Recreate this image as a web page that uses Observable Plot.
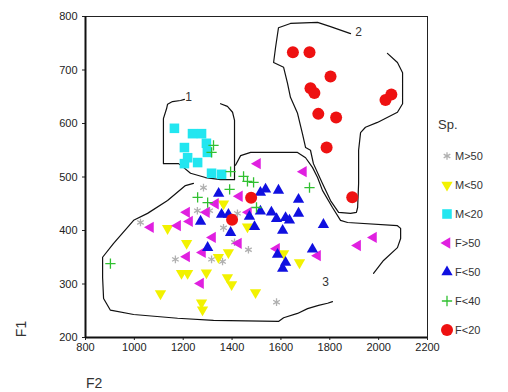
<!DOCTYPE html>
<html>
<head>
<meta charset="utf-8">
<script src="https://cdn.jsdelivr.net/npm/d3@7"></script>
<script src="https://cdn.jsdelivr.net/npm/@observablehq/plot@0.6"></script>
<style>
  html, body { margin: 0; padding: 0; background: #fff; }
  #wrap { position: relative; width: 508px; height: 392px; font-family: "Liberation Sans", Arial, sans-serif; }
  #wrap svg { display: block; }
  .axt { position: absolute; font-size: 14px; color: #333; white-space: nowrap; }
</style>
</head>
<body>
<div id="wrap"></div>
<script>
// Axis ticks
const xTicks = [800, 1000, 1200, 1400, 1600, 1800, 2000, 2200];
const yTicks = [200, 300, 400, 500, 600, 700, 800];

// Legend categories
const categories = ["M>50", "M<50", "M<20", "F>50", "F<50", "F<40", "F<20"];

// Series values [F2, F1]
const ptsM50up = [[1283,480],[1258,437],[1308,437],[1422,432],[1025,415],[1365,405],[1410,378],[1467,364],[1168,346],[1316,346],[1361,342],[1582,266]];
const ptsM50 = [[1365,450],[1136,404],[1463,407],[1214,376],[1385,359],[1344,350],[1193,320],[1218,320],[1295,321],[1381,312],[1398,299],[1107,282],[1275,265],[1279,252],[1496,284],[1611,357],[1676,340]];
const ptsM20 = [[1164,591],[1238,581],[1275,581],[1205,555],[1295,563],[1299,546],[1218,536],[1259,527],[1205,525],[1316,507],[1357,505]];
const ptsF50up = [[1504,525],[1692,510],[1430,464],[1214,434],[1295,434],[1467,434],[1332,450],[1226,417],[1066,406],[1177,409],[1320,387],[1426,376],[1279,359],[1214,351],[1271,301],[1582,366],[1750,353],[1914,372],[1979,387]];
const ptsF50 = [[1516,471],[1537,477],[1590,475],[1672,458],[1516,436],[1561,434],[1582,422],[1619,424],[1635,419],[1672,432],[1471,426],[1492,407],[1607,400],[1774,411],[1345,469],[1357,430],[1385,430],[1271,417],[1394,396],[1300,368],[1729,365],[1586,355],[1619,340],[1607,329]];
const ptsF40 = [[1324,559],[1316,546],[1394,510],[1447,501],[1463,492],[1488,490],[1390,477],[1259,462],[1300,452],[1500,443],[1717,480],[902,338]];
const ptsF20 = [[1649,733],[1717,733],[1803,688],[1721,666],[1737,657],[1753,618],[1826,611],[1787,555],[2028,644],[2052,654],[1892,462],[1478,461],[1400,420]];

// Hand-drawn group outlines [F2, F1]
const outline1 = [[1205,645],[1189,643],[1156,641],[1136,636],[1132,628],[1119,609],[1119,525],[1181,525],[1201,518],[1230,507],[1291,499],[1353,495],[1410,495],[1410,522],[1410,606],[1402,621],[1381,632],[1353,637]];
const outline2 = [[2036,731],[2077,714],[2098,695],[2098,637],[2077,621],[1995,602],[1946,593],[1926,583],[1918,550],[1918,488],[1914,443],[1909,434],[1885,432],[1836,434],[1803,456],[1770,488],[1733,525],[1721,550],[1701,555],[1688,581],[1668,619],[1639,649],[1627,675],[1611,705],[1570,714],[1578,742],[1590,779],[1639,787],[1750,789],[1803,781],[1885,768]];
const outline3a = [[1242,488],[1209,484],[1136,456],[1054,432],[997,419],[915,376],[870,350],[870,312],[874,273],[902,251],[997,243],[1177,236],[1324,232],[1590,230],[1611,237],[1668,245],[1709,254],[1754,260],[1791,264],[1811,267]];
const outline3b = [[1414,522],[1435,540],[1476,546],[1668,546],[1701,536],[1729,518],[1750,499],[1770,475],[1811,443],[1844,419],[1873,415],[2077,409],[2090,404],[2090,385],[2077,368],[2020,344],[1979,320]];
const groupLabels = ["1", "2", "3"];
const groupLabelPos = [[1222,649],[1918,770],[1783,303]];

const colors = ["#b0b0b0", "#f2f200", "#22e6f0", "#e020e0", "#1010e0", "#30c030", "#ee1111"];
const symbols = ["asterisk", "triangle", "square", "triangle", "triangle", "plus", "circle"];
const rotations = [0, 180, 0, -90, 0, 0, 0];
const radii = [3.6, 4.2, 5.4, 4.2, 4.2, 3.4, 6];
const series = [ptsM50up, ptsM50, ptsM20, ptsF50up, ptsF50, ptsF40, ptsF20];

const lineStyle = {x: d => d[0], y: d => d[1], stroke: "#111", strokeWidth: 1.2, curve: "linear"};

const dotMarks = series.map((pts, i) => {
  const stroked = symbols[i] === "plus" || symbols[i] === "asterisk";
  return Plot.dot(pts, {
    x: d => d[0], y: d => d[1],
    symbol: symbols[i], r: radii[i], rotate: rotations[i],
    fill: stroked ? "none" : colors[i],
    stroke: stroked ? colors[i] : "none",
    strokeWidth: stroked ? 1.3 : 0
  });
});

const chart = Plot.plot({
  width: 508, height: 392,
  marginLeft: 85, marginRight: 81, marginTop: 16, marginBottom: 55,
  style: {fontFamily: "Liberation Sans, Arial, sans-serif", fontSize: "11px", color: "#222", background: "white", overflow: "visible"},
  x: {domain: [800, 2200], ticks: xTicks, tickSize: 3, tickPadding: 3, label: null, tickFormat: d => String(d)},
  y: {domain: [200, 800], ticks: yTicks, tickSize: 3, tickPadding: 5, label: null, tickFormat: d => String(d)},
  marks: [
    Plot.frame({stroke: "#222", strokeWidth: 1}),
    Plot.ruleX([800], {stroke: "#111", strokeWidth: 2}),
    Plot.ruleY([200], {stroke: "#111", strokeWidth: 2}),
    Plot.line(outline1, lineStyle),
    Plot.line(outline2, lineStyle),
    Plot.line(outline3a, lineStyle),
    Plot.line(outline3b, lineStyle),
    Plot.text(groupLabelPos, {x: d => d[0], y: d => d[1], text: (d, i) => groupLabels[i], fontSize: 12, fill: "#333"}),
    ...dotMarks
  ]
});

const wrap = document.getElementById("wrap");
wrap.appendChild(chart);

// Axis titles
const f1 = document.createElement("div");
f1.className = "axt"; f1.textContent = "F1";
f1.style.left = "13px"; f1.style.top = "321px"; f1.style.transform = "rotate(-90deg)";
wrap.appendChild(f1);
const f2 = document.createElement("div");
f2.className = "axt"; f2.textContent = "F2";
f2.style.left = "86px"; f2.style.top = "375px";
wrap.appendChild(f2);

// Legend
const leg = d3.create("svg").attr("width", 88).attr("height", 250)
  .style("position", "absolute").style("left", "420px").style("top", "100px")
  .style("font-family", "Liberation Sans, Arial, sans-serif");
leg.append("text").attr("x", 18).attr("y", 29).attr("font-size", 13).attr("fill", "#333").text("Sp.");
const symMap = {asterisk: d3.symbolAsterisk, triangle: d3.symbolTriangle, square: d3.symbolSquare, plus: d3.symbolPlus, circle: d3.symbolCircle};
categories.forEach((c, i) => {
  const y = 56 + i * 29;
  const stroked = symbols[i] === "plus" || symbols[i] === "asterisk";
  leg.append("path")
    .attr("d", d3.symbol(symMap[symbols[i]], Math.PI * radii[i] * radii[i])())
    .attr("transform", `translate(27,${y}) rotate(${rotations[i]})`)
    .attr("fill", stroked ? "none" : colors[i])
    .attr("stroke", stroked ? colors[i] : "none")
    .attr("stroke-width", stroked ? 1.3 : 0);
  leg.append("text").attr("x", 35).attr("y", y + 4).attr("font-size", 11).attr("fill", "#333").text(c);
});
wrap.appendChild(leg.node());
</script>
</body>
</html>
